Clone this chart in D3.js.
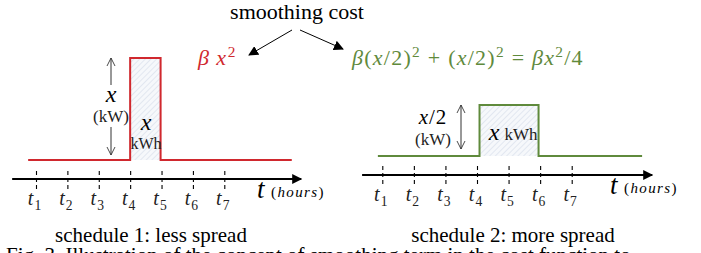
<!DOCTYPE html>
<html>
<head>
<meta charset="utf-8">
<script src="https://cdn.jsdelivr.net/npm/d3@7"></script>
<style>
  body { margin: 0; background: #fff; }
  svg { display: block; }
  text { font-family: "Liberation Serif", "Times New Roman", serif; }
</style>
</head>
<body>
<svg id="chart" width="701" height="253"></svg>
<script>
// time slots shown on both axes
var slots = [1, 2, 3, 4, 5, 6, 7];
// step profiles: [time, power] (power in units of x kW)
var schedule1 = [[0.75, 0], [4, 0], [4, 1], [4.97, 1], [4.97, 0], [9.15, 0]];
var schedule2 = [[0.86, 0], [4.08, 0], [4.08, 0.5], [5.95, 0.5], [5.95, 0], [9.23, 0]];
var captions = ["schedule 1: less spread", "schedule 2: more spread"];

var red = "#d0282e", green = "#5f8a3c";

var svg = d3.select("#chart");
var defs = svg.append("defs");

// hatch fill inside the blocks
var pat = defs.append("pattern")
    .attr("id", "hatch")
    .attr("patternUnits", "userSpaceOnUse")
    .attr("width", 4).attr("height", 4)
    .attr("patternTransform", "rotate(45)");
pat.append("rect").attr("width", 4).attr("height", 4).attr("fill", "#f6f8fb");
pat.append("line").attr("x1", 0).attr("y1", 0).attr("x2", 0).attr("y2", 4)
    .attr("stroke", "#d5dcea").attr("stroke-width", 1.2);

defs.append("marker").attr("id", "solidHead")
    .attr("viewBox", "0 0 10 10").attr("refX", 9).attr("refY", 5)
    .attr("markerWidth", 10).attr("markerHeight", 10)
    .attr("markerUnits", "userSpaceOnUse")
    .attr("orient", "auto")
    .append("path").attr("d", "M0,0 L10,5 L0,10 Z").attr("fill", "#000");

defs.append("marker").attr("id", "axisHead")
    .attr("viewBox", "0 0 10 10").attr("refX", 9).attr("refY", 5)
    .attr("markerWidth", 12).attr("markerHeight", 10)
    .attr("markerUnits", "userSpaceOnUse")
    .attr("orient", "auto")
    .append("path").attr("d", "M0,0 L10,5 L0,10 Z").attr("fill", "#000");

defs.append("marker").attr("id", "openHead")
    .attr("viewBox", "0 0 10 10").attr("refX", 10).attr("refY", 5)
    .attr("markerWidth", 8).attr("markerHeight", 10)
    .attr("markerUnits", "userSpaceOnUse")
    .attr("orient", "auto-start-reverse")
    .append("path").attr("d", "M0,0 L10,5 L0,10").attr("fill", "none")
    .attr("stroke", "#333").attr("stroke-width", 1.1);

// write a small math-like string: italic letters, superscripts / subscripts
function mathText(g, x, y, parts, size, color, anchor, spacing) {
    var t = g.append("text")
        .attr("x", x).attr("y", y)
        .attr("font-size", size)
        .attr("fill", color)
        .attr("letter-spacing", spacing || 0)
        .attr("text-anchor", anchor || "start");
    var shift = 0;
    parts.forEach(function (p) {
        var s = t.append("tspan").text(p[0]);
        var style = p[1] || "";
        if (style.indexOf("i") >= 0) s.attr("font-style", "italic");
        var dy = 0;
        if (style.indexOf("sup") >= 0) { dy = -8; s.attr("font-size", size * 0.7); }
        if (style.indexOf("sub") >= 0) { dy = 5; s.attr("font-size", size * 0.68); }
        if (dy - shift !== 0) s.attr("dy", dy - shift);
        shift = dy;
    });
    return t;
}

function panel(cfg) {
    var g = svg.append("g");
    var x = d3.scaleLinear().domain([1, 7]).range(cfg.xr);
    var y = d3.scaleLinear().domain([0, 1]).range([cfg.base, cfg.base - cfg.unit]);

    // hatched block under the step
    var block = cfg.data.filter(function (d) { return d[1] > 0; });
    g.append("rect")
        .attr("x", x(block[0][0]))
        .attr("y", y(block[0][1]))
        .attr("width", x(block[1][0]) - x(block[0][0]))
        .attr("height", y(0) - y(block[0][1]))
        .attr("fill", "url(#hatch)");

    g.append("path")
        .datum(cfg.data)
        .attr("d", d3.line().x(function (d) { return x(d[0]); }).y(function (d) { return y(d[1]); }))
        .attr("fill", "none")
        .attr("stroke", cfg.color)
        .attr("stroke-width", 2);

    // time axis
    var ax = g.append("g")
        .attr("transform", "translate(0," + cfg.axisY + ")")
        .call(d3.axisBottom(x).tickValues(slots).tickFormat("").tickSizeOuter(0));
    ax.select(".domain").remove();
    ax.selectAll(".tick line")
        .attr("y1", cfg.tickTop).attr("y2", cfg.tickBot)
        .attr("stroke", "#000").attr("stroke-width", 1.1)
        .attr("stroke-dasharray", "4,3");
    g.append("line")
        .attr("x1", x(cfg.axisFrom)).attr("x2", x(cfg.axisTo))
        .attr("y1", cfg.axisY).attr("y2", cfg.axisY)
        .attr("stroke", "#000").attr("stroke-width", 2.2)
        .attr("marker-end", "url(#axisHead)");

    slots.forEach(function (s) {
        mathText(g, x(s) - 1, cfg.labelY, [["t", "i"], [String(s), "sub"]], 20, "#222", "middle", 1);
    });
    mathText(g, cfg.tX, cfg.tY, [["t", "i"]], 27, "#000");
    mathText(g, cfg.tX + 14, cfg.tY - 1, [["(", ""], ["hours", "i"], [")", ""]], 15, "#000", "start", 1.4);

    g.append("text")
        .attr("x", cfg.capX).attr("y", 242)
        .attr("text-anchor", "middle")
        .attr("font-size", 21)
        .text(cfg.caption);
    return {g: g, x: x, y: y};
}

var p1 = panel({
    data: schedule1, color: red, xr: [36, 224.3], base: 160, unit: 102,
    axisY: 179, axisFrom: 0.24, axisTo: 9.45, tickTop: -8, tickBot: 11,
    labelY: 205, tX: 257, tY: 198, capX: 151, caption: captions[0]
});
var p2 = panel({
    data: schedule2, color: green, xr: [382.3, 571.7], base: 156, unit: 102,
    axisY: 175, axisFrom: 0.36, axisTo: 9.55, tickTop: -9, tickBot: 11,
    labelY: 201, tX: 610, tY: 194, capX: 513, caption: captions[1]
});

// left block annotations
var g1 = p1.g;
g1.append("line").attr("x1", 111).attr("x2", 111).attr("y1", 85).attr("y2", 58)
    .attr("stroke", "#333").attr("stroke-width", 1).attr("marker-end", "url(#openHead)");
g1.append("line").attr("x1", 111).attr("x2", 111).attr("y1", 127).attr("y2", 155)
    .attr("stroke", "#333").attr("stroke-width", 1).attr("marker-end", "url(#openHead)");
mathText(g1, 111, 102, [["x", "i"]], 24, "#000", "middle");
g1.append("text").attr("x", 111).attr("y", 122).attr("text-anchor", "middle")
    .attr("font-size", 17).attr("fill", "#222").text("(kW)");
mathText(g1, 146, 130, [["x", "i"]], 24, "#000", "middle");
g1.append("text").attr("x", 146).attr("y", 149).attr("text-anchor", "middle")
    .attr("font-size", 16).attr("fill", "#222").text("kWh");

// right block annotations
var g2 = p2.g;
g2.append("line").attr("x1", 461).attr("x2", 461).attr("y1", 105).attr("y2", 149)
    .attr("stroke", "#333").attr("stroke-width", 1)
    .attr("marker-start", "url(#openHead)").attr("marker-end", "url(#openHead)");
mathText(g2, 433, 124, [["x", "i"], ["/2", ""]], 21, "#000", "middle", 1);
g2.append("text").attr("x", 433).attr("y", 145).attr("text-anchor", "middle")
    .attr("font-size", 17).attr("fill", "#222").text("(kW)");
mathText(g2, 494, 140, [["x", "i"]], 24, "#000", "middle");
g2.append("text").attr("x", 521).attr("y", 140).attr("text-anchor", "middle")
    .attr("font-size", 17).attr("fill", "#222").text("kWh");

// title, arrows and cost formulas
svg.append("text").attr("x", 297).attr("y", 19).attr("text-anchor", "middle")
    .attr("font-size", 22).text("smoothing cost");
svg.append("line").attr("x1", 292).attr("y1", 30).attr("x2", 249).attr("y2", 55)
    .attr("stroke", "#000").attr("stroke-width", 1).attr("marker-end", "url(#solidHead)");
svg.append("line").attr("x1", 300).attr("y1", 30).attr("x2", 343).attr("y2", 49)
    .attr("stroke", "#000").attr("stroke-width", 1).attr("marker-end", "url(#solidHead)");

mathText(svg, 198, 65, [["\u03b2", "i"], ["\u2009x", "i"], ["2", "sup"]], 22, red, "start", 1.5);
mathText(svg, 352, 65, [
    ["\u03b2", "i"], ["(", ""], ["x", "i"], ["/2)", ""], ["2", "sup"],
    [" + (", ""], ["x", "i"], ["/2)", ""], ["2", "sup"],
    [" = ", ""], ["\u03b2x", "i"], ["2", "sup"], ["/4", ""]
], 22, green, "start", 1.25);

// figure caption cut by the frame
svg.append("text").attr("x", 6).attr("y", 262).attr("font-size", 21)
    .text("Fig. 3.  Illustration of the concept of smoothing term in the cost function to");
</script>
</body>
</html>
